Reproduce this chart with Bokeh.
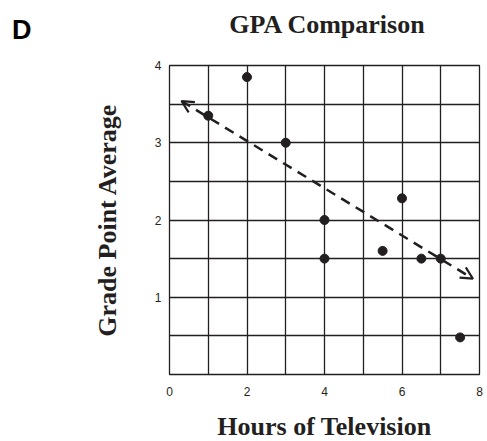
from bokeh.plotting import figure
from bokeh.models import Range1d, FixedTicker, Arrow, OpenHead, ColumnDataSource, Div
from bokeh.layouts import column
from bokeh.embed import file_html
from bokeh.resources import INLINE

# ---- data ----
hours = [1, 2, 3, 4, 4, 5.5, 6, 6.5, 7, 7.5]
gpa = [3.35, 3.85, 3.0, 2.0, 1.5, 1.6, 2.28, 1.5, 1.5, 0.48]
trend_x = [0.31, 7.83]
trend_y = [3.54, 1.24]
x_ticks = [0, 2, 4, 6, 8]
y_ticks = [1, 2, 3, 4]
x_grid = [0, 1, 2, 3, 4, 5, 6, 7, 8]
y_grid = [0, 0.5, 1, 1.5, 2, 2.5, 3, 3.5, 4]
title_text = "GPA Comparison"
panel_letter = "D"

INK = "#231f20"

header_html = (
    '<div style="position:relative;width:483px;height:40px;">'
    '<div style="position:absolute;left:7px;top:12px;font-family:\'Liberation Sans\';'
    'font-weight:bold;font-size:27px;line-height:1;color:#000;">' + panel_letter + '</div>'
    '<div style="position:absolute;left:0px;top:7px;width:644px;text-align:center;'
    'font-family:\'Liberation Serif\';font-weight:bold;font-size:26px;line-height:1;'
    'color:' + INK + ';white-space:nowrap;">' + title_text + '</div>'
    '</div>'
)
header = Div(text=header_html, width=483, height=40)

p = figure(frame_width=310, frame_height=309,
           x_range=Range1d(0, 8), y_range=Range1d(0, 4),
           output_backend="svg", toolbar_location=None, title_location=None,
           min_border_left=169, min_border_right=4,
           min_border_top=15, min_border_bottom=64,
           background_fill_color="white", border_fill_color="white")

p.outline_line_color = INK
p.outline_line_width = 1.3

p.xgrid.ticker = FixedTicker(ticks=x_grid)
p.ygrid.ticker = FixedTicker(ticks=y_grid)
for g in (p.xgrid[0], p.ygrid[0]):
    g.grid_line_color = INK
    g.grid_line_width = 1.3
    g.grid_line_alpha = 1.0

p.xaxis.ticker = FixedTicker(ticks=x_ticks)
p.yaxis.ticker = FixedTicker(ticks=y_ticks)
for ax in (p.xaxis[0], p.yaxis[0]):
    ax.axis_line_color = None
    ax.major_tick_line_color = None
    ax.minor_tick_line_color = None
    ax.major_tick_out = 0
    ax.major_tick_in = 0
    ax.major_label_text_font = "Liberation Sans"
    ax.major_label_text_font_size = "12px"
    ax.major_label_text_color = INK
    ax.axis_label_text_font = "Liberation Serif"
    ax.axis_label_text_font_style = "bold"
    ax.axis_label_text_font_size = "26px"
    ax.axis_label_text_color = INK

p.xaxis.axis_label = "Hours of Television"
p.yaxis.axis_label = "Grade Point Average"
p.xaxis.major_label_standoff = 12
p.yaxis.major_label_standoff = 8
p.xaxis.axis_label_standoff = 13
p.yaxis.axis_label_standoff = 30

src = ColumnDataSource(dict(x=hours, y=gpa))
p.scatter("x", "y", source=src, size=9, color=INK)

arrow = Arrow(x_start=trend_x[0], y_start=trend_y[0], x_end=trend_x[1], y_end=trend_y[1],
              line_color=INK, line_width=2.5, line_dash="10 7",
              start=OpenHead(size=12, line_color=INK, line_width=2.2),
              end=OpenHead(size=12, line_color=INK, line_width=2.2))
p.add_layout(arrow)

layout = column(header, p, spacing=0)

open("out.html", "w").write(file_html(layout, INLINE))
